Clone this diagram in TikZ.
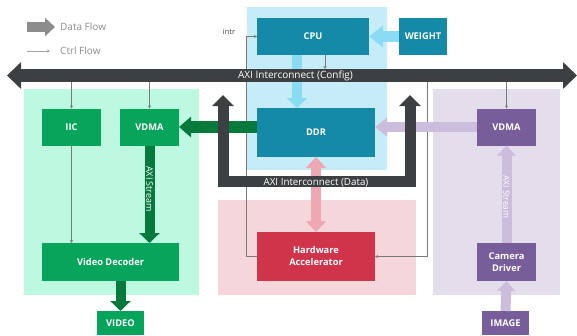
\documentclass[tikz,border=0pt]{standalone}
\usepackage{fontspec}
\setmainfont{Open Sans}
\usetikzlibrary{arrows.meta,calc}
\definecolor{lblueBg}{HTML}{C6ECF7}
\definecolor{tealbox}{HTML}{158AA8}
\definecolor{lbluearr}{HTML}{8ADCF5}
\definecolor{busgray}{HTML}{3D4042}
\definecolor{greenBg}{HTML}{BDF8E0}
\definecolor{greenbox}{HTML}{07A45B}
\definecolor{dgreen}{HTML}{067A3C}
\definecolor{pinkBg}{HTML}{F5D6DB}
\definecolor{hwred}{HTML}{D0344A}
\definecolor{pinkarr}{HTML}{EEA8B3}
\definecolor{purpleBg}{HTML}{E4DDEB}
\definecolor{purplebox}{HTML}{775E9B}
\definecolor{lpurple}{HTML}{CBBDDB}
\definecolor{leggray}{HTML}{8C8C8C}
\definecolor{ctrlgray}{HTML}{7A7A7A}
\begin{document}
\begin{tikzpicture}[x=1pt,y=-1pt,
  region/.style={fill=#1,draw=none},
  box/.style={fill=#1,text=white,inner sep=0pt,outer sep=0pt,align=center,
    font=\bfseries\fontsize{9.3}{12}\selectfont},
  fat/.style={draw=#1,line width=10pt,-{Triangle[length=10pt,width=20pt]}},
  ctrl/.style={draw=ctrlgray,line width=0.5pt,-{Stealth[length=3pt,width=3pt]}},
  ctrlplain/.style={draw=ctrlgray,line width=0.5pt},
  lbl/.style={font=\fontsize{10}{12}\selectfont,inner sep=0pt},
]
\useasboundingbox (0,0) rectangle (577,335);

% background regions
\fill[region=lblueBg] (247,7) rectangle (387,170);
\fill[region=greenBg] (24,89) rectangle (199,295);
\fill[region=pinkBg] (218,200) rectangle (416,295);
\fill[region=purpleBg] (433,89) rectangle (560,295);

% coordinates for buses
\coordinate (cfgL) at (7,75.5);
\coordinate (cfgR) at (577,75.5);
\coordinate (cfgtop) at (0,69);
\coordinate (cfgbot) at (0,82);
\coordinate (intrx) at (246,0);
\coordinate (hwc) at (427,0);

% boxes
\node[box=tealbox,minimum width=112pt,minimum height=37pt] (cpu) at (313,36.5) {CPU};
\node[box=tealbox,minimum width=48pt,minimum height=37pt] (weight) at (423,36.5) {WEIGHT};
\node[box=tealbox,minimum width=118pt,minimum height=49pt] (ddr) at (316,132.5) {DDR};
\node[box=greenbox,minimum width=59pt,minimum height=37pt] (iic) at (71.5,127) {IIC};
\node[box=greenbox,minimum width=59pt,minimum height=37pt] (vdmag) at (149.5,127) {VDMA};
\node[box=greenbox,minimum width=137pt,minimum height=38pt] (dec) at (110.5,262) {Video Decoder};
\node[box=greenbox,minimum width=47pt,minimum height=24pt] (video) at (120.5,323) {VIDEO};
\node[box=hwred,minimum width=118pt,minimum height=49pt] (hw) at (316,256.5) {Hardware\\Accelerator};
\node[box=purplebox,minimum width=59pt,minimum height=37pt] (vdmap) at (506.5,127) {VDMA};
\node[box=purplebox,minimum width=59pt,minimum height=38pt] (cam) at (506.5,262) {Camera\\Driver};
\node[box=purplebox,minimum width=47pt,minimum height=24pt] (image) at (505.5,323) {IMAGE};

% control lines
\draw[ctrlplain] (hw.west) -- (intrx |- hw.west) -- (intrx |- cpu.west);
\draw[ctrl] (intrx |- cpu.west) -- (cpu.west);
\node[lbl,text=busgray,font=\fontsize{7.5}{9}\selectfont] (intr) at (229,32) {intr};
\draw[ctrl] (hwc |- cfgbot) |- (hw.east);
\draw[ctrl] (iic.north |- cfgbot) -- (iic.north);
\draw[ctrl] (vdmag.north |- cfgbot) -- (vdmag.north);
\draw[ctrl] (vdmap.north |- cfgbot) -- (vdmap.north);
\draw[ctrl] (iic.south) -- (iic.south |- dec.north);
\coordinate (cpuctl) at ([xshift=12pt]cpu.south);
\draw[ctrl] (cpuctl) -- (cpuctl |- cfgtop);

% data flow arrows
\draw[fat=lbluearr,line width=11pt,-{Triangle[length=14pt,width=21pt]}] (weight.west) -- (cpu.east);
\draw[fat=lbluearr] ([xshift=-16pt]cpu.south) -- ([xshift=-19pt]ddr.north);
\draw[fat=dgreen,line width=12pt,-{Triangle[length=12pt,width=20pt]}] (ddr.west |- vdmag.east) -- (vdmag.east);
\draw[fat=lpurple,line width=10pt,-{Triangle[length=12pt,width=18pt]}] (vdmap.west) -- (vdmap.west -| ddr.east);
\draw[fat=pinkarr,{Triangle[length=11pt,width=20pt]}-{Triangle[length=11pt,width=20pt]}] (ddr.south) -- (hw.north);
\draw[fat=dgreen] (vdmag.south) -- (vdmag.south |- dec.north);
\node[lbl,text=white,rotate=-90,font=\fontsize{9}{10}\selectfont] (ast1) at (149.5,189) {AXI Stream};
\draw[fat=dgreen] (dec.south -| video.north) -- (video.north);
\draw[fat=lpurple,-{Triangle[length=10pt,width=18pt]}] (cam.north) -- (vdmap.south);
\node[lbl,text=white,rotate=-90,font=\fontsize{8.5}{10}\selectfont] (ast2) at (506.5,197) {AXI Stream};
\draw[fat=lpurple,-{Triangle[length=10pt,width=18pt]}] (image.north) -- (cam.south);

% data interconnect (U shape)
\coordinate (dL) at (223,95);
\coordinate (dR) at (410,95);
\coordinate (dB) at (0,181.5);
\draw[draw=busgray,line width=11pt,miter limit=10,{Triangle[length=11pt,width=21pt]}-{Triangle[length=11pt,width=21pt]}]
  (dL) -- (dL |- dB) -- (dR |- dB) -- (dR);
\node[lbl,text=white,font=\fontsize{9.8}{12}\selectfont] (dlabel) at (316,183) {AXI Interconnect (Data)};

% config interconnect
\draw[draw=busgray,line width=13pt,{Triangle[length=14pt,width=26pt]}-{Triangle[length=14pt,width=26pt]}] (cfgL) -- (cfgR);
\node[lbl,text=white] (clabel) at (295.5,76) {AXI Interconnect (Config)};

% legend
\coordinate (lg1) at (27,27);
\coordinate (lg2) at (55,27);
\coordinate (lc1) at (27,51);
\coordinate (lc2) at (50,51);
\draw[draw=leggray,line width=10pt,-{Triangle[length=10pt,width=18pt]}] (lg1) -- (lg2);
\node[lbl,text=leggray,anchor=west] (ldata) at (60,27) {Data Flow};
\draw[draw=leggray!80,line width=0.5pt,-{Stealth[length=3pt,width=3pt]}] (lc1) -- (lc2);
\node[lbl,text=leggray,anchor=west] (lctrl) at (60,51) {Ctrl Flow};
\end{tikzpicture}
\end{document}
